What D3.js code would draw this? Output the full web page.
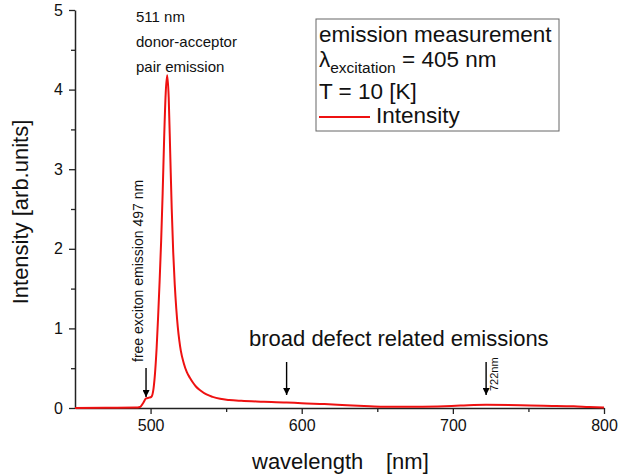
<!DOCTYPE html>
<html><head><meta charset="utf-8">
<script src="https://cdn.jsdelivr.net/npm/d3@7"></script>
<style>body{margin:0;background:#fff}svg{display:block}text{font-family:"Liberation Sans",Arial,sans-serif}</style>
</head><body>
<svg id="c" width="621" height="474"></svg>
<script>
const wavelength = [450,470,490,493,495,497,499,500.5,502,503,504,505,506,507,508,509,510,511,512,513,514,515,516,517,518,519,520,522,524,526,528,530,533,537,541,546,552,560,575,590,600,615,630,645,655,670,690,705,722,745,760,780,790,800];
const intensity  = [0,0.003,0.005,0.012,0.06,0.12,0.13,0.14,0.25,0.45,0.75,1.15,1.6,2.1,2.7,3.4,3.95,4.18,3.9,3.2,2.5,1.95,1.55,1.25,1.02,0.85,0.72,0.56,0.45,0.38,0.32,0.27,0.22,0.17,0.14,0.115,0.10,0.09,0.08,0.07,0.06,0.05,0.035,0.022,0.015,0.015,0.02,0.03,0.04,0.035,0.028,0.022,0.012,0.005];
const xMajor = [500,600,700,800];
const xMinor = [550,650,750];
const yMajor = [0,1,2,3,4,5];
const yMinor = [0.5,1.5,2.5,3.5,4.5];
const arrowsNm = [497,590,722];
const legendLines = ["emission measurement","T = 10 [K]"];

const svg = d3.select("#c");
const x = d3.scaleLinear().domain([450,800]).range([75,604]);
const y = d3.scaleLinear().domain([0,5]).range([408,10]);

// axes
svg.append("g").attr("transform","translate(0,408)")
  .call(d3.axisBottom(x).tickValues(xMajor).tickSize(6).tickSizeOuter(0).tickPadding(6).tickFormat(d3.format("d")));
svg.append("g").attr("transform","translate(0,408)")
  .call(d3.axisBottom(x).tickValues(xMinor).tickSize(4).tickFormat("")).select(".domain").remove();
svg.append("g").attr("transform","translate(75,0)")
  .call(d3.axisLeft(y).tickValues(yMajor).tickSize(6).tickSizeOuter(0).tickPadding(6).tickFormat(d3.format("d")));
svg.append("g").attr("transform","translate(75,0)")
  .call(d3.axisLeft(y).tickValues(yMinor).tickSize(4).tickFormat("")).select(".domain").remove();
svg.selectAll(".domain").attr("stroke","#222").attr("stroke-width",1.5);
svg.selectAll(".tick line").attr("stroke","#222").attr("stroke-width",1.3);
svg.selectAll(".tick text").attr("font-size",16).attr("fill","#111").style("font-family","'Liberation Sans',Arial,sans-serif");

// curve
const line = d3.line().x((d,i)=>x(wavelength[i])).y(d=>y(d)).curve(d3.curveMonotoneX);
svg.append("path").attr("d",line(intensity)).attr("fill","none").attr("stroke","#ee1111").attr("stroke-width",2);

// axis titles
svg.append("text").attr("x",252).attr("y",469).attr("font-size",22).attr("fill","#111").text("wavelength");
svg.append("text").attr("x",386).attr("y",469).attr("font-size",22).attr("fill","#111").text("[nm]");
svg.append("text").attr("transform","translate(28,212) rotate(-90)").attr("text-anchor","middle")
  .attr("font-size",22).attr("fill","#111").text("Intensity [arb.units]");

// arrows
svg.append("defs").append("marker").attr("id","ah").attr("viewBox","0 0 10 10").attr("refX",10).attr("refY",5)
  .attr("markerWidth",8).attr("markerHeight",7).attr("markerUnits","userSpaceOnUse").attr("orient","auto")
  .append("path").attr("d","M0,0L10,5L0,10Z").attr("fill","#000");
const arrowTop = [368,362,362];
const arrowTip = [397,395,395];
svg.selectAll(".arr").data(arrowsNm).join("line").attr("class","arr")
  .attr("x1",d=>x(d)).attr("x2",d=>x(d)).attr("y1",(d,i)=>arrowTop[i]).attr("y2",(d,i)=>arrowTip[i])
  .attr("stroke","#000").attr("stroke-width",1.4).attr("marker-end","url(#ah)");

// annotations
const ann = svg.append("g").attr("font-size",15).attr("fill","#111");
ann.append("text").attr("x",136).attr("y",22).text("511 nm");
ann.append("text").attr("x",136).attr("y",47).text("donor-acceptor");
ann.append("text").attr("x",136).attr("y",72).text("pair emission");
svg.append("text").attr("transform",`translate(${x(497)-3},362) rotate(-90)`).attr("font-size",14).attr("fill","#111")
  .text("free exciton emission 497 nm");
svg.append("text").attr("x",249).attr("y",346).attr("font-size",22).attr("fill","#111").text("broad defect related emissions");
svg.append("text").attr("transform",`translate(${x(722)+12},391) rotate(-90)`).attr("font-size",11).attr("fill","#111").text("722nm");

// legend box
const lg = svg.append("g");
lg.append("rect").attr("x",316).attr("y",19).attr("width",243).attr("height",112).attr("fill","#fff").attr("stroke","#666").attr("stroke-width",1);
lg.append("text").attr("x",319).attr("y",42).attr("font-size",22.5).attr("fill","#111").text(legendLines[0]);
const t2 = lg.append("text").attr("x",319).attr("y",67).attr("font-size",22.5).attr("fill","#111");
t2.append("tspan").text("λ");
t2.append("tspan").attr("font-size",15.5).attr("dy",6).text("excitation");
t2.append("tspan").attr("dy",-6).text(" = 405 nm");
lg.append("text").attr("x",319).attr("y",99).attr("font-size",22.5).attr("fill","#111").text(legendLines[1]);
lg.append("line").attr("x1",319).attr("x2",370).attr("y1",117).attr("y2",117).attr("stroke","#ee1111").attr("stroke-width",2);
lg.append("text").attr("x",376).attr("y",123).attr("font-size",22.5).attr("fill","#111").text("Intensity");
</script>
</body></html>
